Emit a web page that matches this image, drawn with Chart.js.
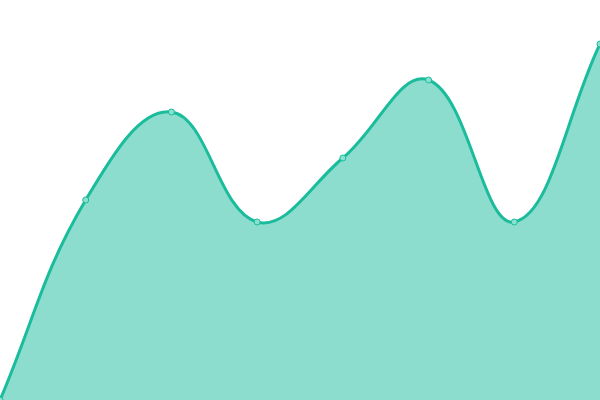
<!DOCTYPE html>
<html>
<head>
<meta charset="utf-8">
<script src="https://cdn.jsdelivr.net/npm/chart.js@4"></script>
<style>
  html, body { margin: 0; padding: 0; background: #fff; }
  #wrap { width: 600px; height: 400px; }
</style>
</head>
<body>
<div id="wrap"><canvas id="myChart"></canvas></div>
<script>
const labels = ['1', '2', '3', '4', '5', '6', '7', '8'];
const values = [0, 50, 72, 44.5, 60.5, 80, 44.5, 89];
const yMin = 0;
const yMax = 100;

let ctx = document.getElementById('myChart');

let myChart = new Chart(ctx, {
  type: 'line',
  data: {
    labels: labels,
    datasets: [{
      data: values,
      fill: true,
      tension: 0.4,
      borderColor: '#1abc9c',
      backgroundColor: 'rgba(26, 188, 156, 0.5)',
      borderWidth: 3,
      pointRadius: 3,
      pointBorderWidth: 1,
      pointBackgroundColor: '#8ce0d0',
      pointBorderColor: '#1abc9c'
    }]
  },
  options: {
    responsive: true,
    maintainAspectRatio: false,
    animation: false,
    layout: { padding: 0, autoPadding: false },
    plugins: {
      legend: { display: false },
      tooltip: { enabled: false }
    },
    scales: {
      x: { display: false, offset: false },
      y: { display: false, min: yMin, max: yMax }
    }
  }
});
</script>
</body>
</html>
